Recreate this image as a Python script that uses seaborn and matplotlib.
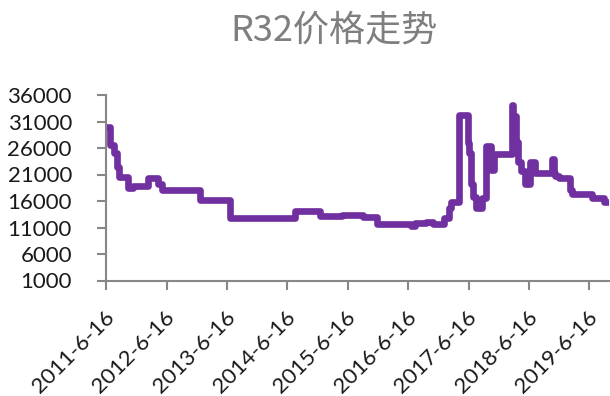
import matplotlib
matplotlib.use("Agg")
import matplotlib.pyplot as plt
import matplotlib.transforms as mtransforms
import pandas as pd
import seaborn as sns

# R32 refrigerant price (CNY/ton), values at each price change
change_dates = [
    "2011-06-16", "2011-07-10", "2011-08-05", "2011-08-20", "2011-09-05",
    "2011-10-24", "2011-11-25", "2012-02-24", "2012-04-25", "2012-05-19",
    "2013-01-03", "2013-07-03", "2014-08-01", "2015-01-01", "2015-05-10",
    "2015-09-16", "2015-12-08", "2016-06-30", "2016-07-24", "2016-10-04",
    "2016-11-10", "2017-01-17", "2017-02-15", "2017-02-27", "2017-04-16",
    "2017-06-10", "2017-06-20", "2017-06-30", "2017-07-15", "2017-07-30",
    "2017-09-02", "2017-09-26", "2017-10-26", "2017-11-14", "2017-11-30",
    "2018-03-02", "2018-03-12", "2018-03-18", "2018-03-30", "2018-04-12",
    "2018-04-26", "2018-05-20", "2018-06-20", "2018-07-19", "2018-11-01",
    "2018-11-12", "2018-11-20", "2018-12-16", "2019-02-16", "2019-03-01",
    "2019-03-30", "2019-07-03", "2019-09-10", "2019-10-12",
]
prices = [
    30000, 26500, 25000, 22500, 20500,
    18500, 18800, 20300, 19200, 18100,
    16200, 12800, 14100, 13200, 13400,
    12900, 11700, 11300, 11900, 12100,
    11700, 12700, 14600, 15900, 32200,
    26900, 25000, 19300, 16800, 14600,
    16500, 26300, 21800, 24900, 24900,
    34100, 30000, 32000, 27200, 23400,
    21600, 19300, 23400, 21200, 24000,
    21200, 20800, 20300, 18000, 17400,
    17400, 16500, 15900, 15900,
]

tick_dates = ["2011-06-16", "2012-06-16", "2013-06-16", "2014-06-16", "2015-06-16",
              "2016-06-16", "2017-06-16", "2018-06-16", "2019-06-16"]
tick_labels = ["2011-6-16", "2012-6-16", "2013-6-16", "2014-6-16", "2015-6-16",
               "2016-6-16", "2017-6-16", "2018-6-16", "2019-6-16"]
y_ticks = [1000, 6000, 11000, 16000, 21000, 26000, 31000, 36000]

title_text = "R32价格走势"

sns.set_theme(style="white")
plt.rcParams["font.family"] = ["Lato", "Noto Sans CJK SC", "DejaVu Sans"]

df = pd.DataFrame({"date": pd.to_datetime(change_dates), "price": prices})

fig = plt.figure(figsize=(6.1, 3.96), dpi=100)
ax = fig.add_axes([106 / 610, 1 - 280.5 / 396, 503 / 610, (280.5 - 95) / 396])

sns.lineplot(data=df, x="date", y="price", ax=ax, color="#7030A0",
             linewidth=4.8, drawstyle="steps-post",
             solid_joinstyle="round", solid_capstyle="round")

ax.set_xlim(df["date"].iloc[0], df["date"].iloc[-1])
ax.set_ylim(1000, 36000)
ax.set_yticks(y_ticks)
ax.set_yticklabels([str(v) for v in y_ticks])
ax.set_xticks(pd.to_datetime(tick_dates))
ax.set_xticklabels(tick_labels, rotation=45, ha="right", va="center",
                   rotation_mode="anchor")
ax.set_xlabel("")
ax.set_ylabel("")

for side in ["top", "right"]:
    ax.spines[side].set_visible(False)
for side in ["left", "bottom"]:
    ax.spines[side].set_color("#878787")
    ax.spines[side].set_linewidth(1.5)

ax.tick_params(axis="both", which="major", direction="out", length=6.5,
               width=1.5, color="#878787", labelsize=16, labelcolor="#1a1a1a")
ax.tick_params(axis="y", pad=18, left=True)
ax.tick_params(axis="x", pad=18, bottom=True)
ax.grid(False)

# nudge the slanted date labels slightly to the right
shift = mtransforms.ScaledTranslation(5 / 100, 0, fig.dpi_scale_trans)
for lbl in ax.get_xticklabels():
    lbl.set_transform(lbl.get_transform() + shift)

fig.text(334 / 610, 1 - 30 / 396, title_text, ha="center", va="center",
         fontsize=26, color="#7f7f7f",
         family=["Noto Sans CJK SC", "DejaVu Sans"])

fig.savefig("out.png", dpi=100)
